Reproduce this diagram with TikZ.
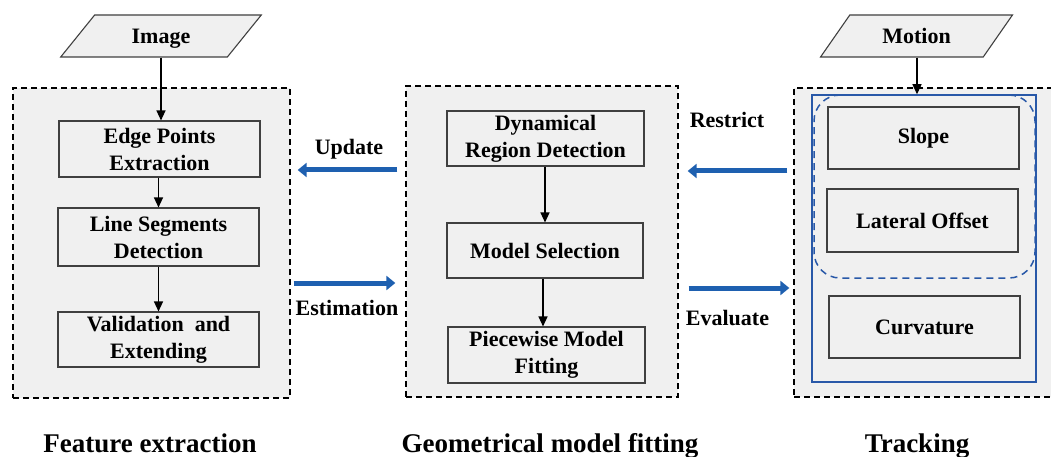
\documentclass[tikz,border=0pt]{standalone}
\usepackage{fontspec}
\setmainfont{Liberation Serif}
\usetikzlibrary{arrows.meta,shapes.geometric}
\definecolor{panelgray}{RGB}{240,240,240}
\definecolor{boxline}{RGB}{64,64,64}
\definecolor{arrblue}{RGB}{30,96,176}
\definecolor{rectblue}{RGB}{40,88,168}
\tikzset{
  txt/.style={font=\bfseries\fontsize{22}{27}\selectfont},
  captiontext/.style={font=\bfseries\fontsize{27}{32}\selectfont, anchor=base},
  group/.style={draw=black, fill=panelgray, line width=1.3pt, dash pattern=on 6pt off 4pt, inner sep=0pt},
  proc/.style={txt, draw=boxline, fill=panelgray, line width=1.1pt, inner sep=0pt, align=center},
  inputshape/.style={txt, trapezium, trapezium left angle=45, trapezium right angle=135, trapezium stretches=true,
     draw=boxline, fill=panelgray, line width=1.1pt, inner sep=0pt, text height=15pt, text depth=0pt},
  flow/.style={line width=1.3pt, -{Triangle[length=10pt,width=9pt]}},
  bluearrow/.style={draw=arrblue, line width=5pt, -{Triangle[length=9pt,width=14pt]}},
  lbl/.style={txt, anchor=base},
}
\begin{document}
\begin{tikzpicture}[x=1pt,y=-1pt]
\useasboundingbox (0,0) rectangle (1051,457);
% groups
\node[group, minimum width=277pt, minimum height=310pt] (fe) at (151.5,243) {};
\node[group, minimum width=272pt, minimum height=311pt] (gm) at (542,241.5) {};
\node[group, minimum width=270pt, minimum height=309pt] (tr) at (929,242.5) {};
% blue frames
\node[draw=rectblue, line width=1.5pt, minimum width=224pt, minimum height=287pt, inner sep=0pt] (bf) at (924,238.5) {};
\node[draw=rectblue, line width=1.5pt, dash pattern=on 7pt off 5pt, rounded corners=26pt, minimum width=221pt, minimum height=183pt, inner sep=0pt] (bd) at (924.5,186.5) {};
% inputs
\node[inputshape, minimum width=202pt, minimum height=42pt] (img) at (161,36) {Image};
\node[inputshape, minimum width=193pt, minimum height=42pt] (mot) at (916.5,36) {Motion};
% feature extraction
\node[proc, minimum width=201pt, minimum height=56pt] (ep) at (159.5,149) {Edge Points\\Extraction};
\node[proc, minimum width=201pt, minimum height=58pt] (ls) at (158.5,237) {Line Segments\\Detection};
\node[proc, minimum width=201pt, minimum height=55pt] (vd) at (158.5,339.5) {Validation\ \ and\\Extending};
% geometrical model fitting
\node[proc, minimum width=197pt, minimum height=55pt] (dr) at (545.5,138.5) {Dynamical\\Region Detection};
\node[proc, minimum width=196pt, minimum height=55pt] (ms) at (545,250.5) {Model Selection};
\node[proc, minimum width=197pt, minimum height=56pt] (pw) at (546.5,355) {Piecewise Model\\Fitting};
% tracking
\node[proc, minimum width=191pt, minimum height=62pt] (sl) at (923.5,138) {Slope};
\node[proc, minimum width=191pt, minimum height=63pt] (lo) at (922.5,220.5) {Lateral Offset};
\node[proc, minimum width=191pt, minimum height=62pt] (cv) at (924.5,327) {Curvature};
% flow arrows
\draw[flow] (img.south -| 161,0) -- (ep.north -| 161,0);
\draw[flow] (ep.south -| 158.5,0) -- (ls.north -| 158.5,0);
\draw[flow] (ls.south -| 158.5,0) -- (vd.north -| 158.5,0);
\draw[flow] (dr.south -| 545,0) -- (ms.north -| 545,0);
\draw[flow] (ms.south -| 543,0) -- (pw.north -| 543,0);
\draw[flow] (mot.south -| 917,0) -- (bf.north -| 917,0);
% blue arrows
\draw[bluearrow, shorten <=8pt, shorten >=7pt] (gm.west |- 0,170) -- (fe.east |- 0,170);
\draw[bluearrow, shorten <=3pt, shorten >=10pt] (fe.east |- 0,283) -- (gm.west |- 0,283);
\draw[bluearrow, shorten <=6pt, shorten >=9pt] (tr.west |- 0,171) -- (gm.east |- 0,171);
\draw[bluearrow, shorten <=10pt, shorten >=4pt] (gm.east |- 0,288) -- (tr.west |- 0,288);
% labels
\node[lbl] (lu) at (349,155) {Update};
\node[lbl] (le) at (347,315) {Estimation};
\node[lbl] (lr) at (727,128) {Restrict};
\node[lbl] (lv) at (727.5,325) {Evaluate};
% captions
\node[captiontext] (c1) at (150,452) {Feature extraction};
\node[captiontext] (c2) at (550,452) {Geometrical model fitting};
\node[captiontext] (c3) at (917,452) {Tracking};
\end{tikzpicture}
\end{document}
